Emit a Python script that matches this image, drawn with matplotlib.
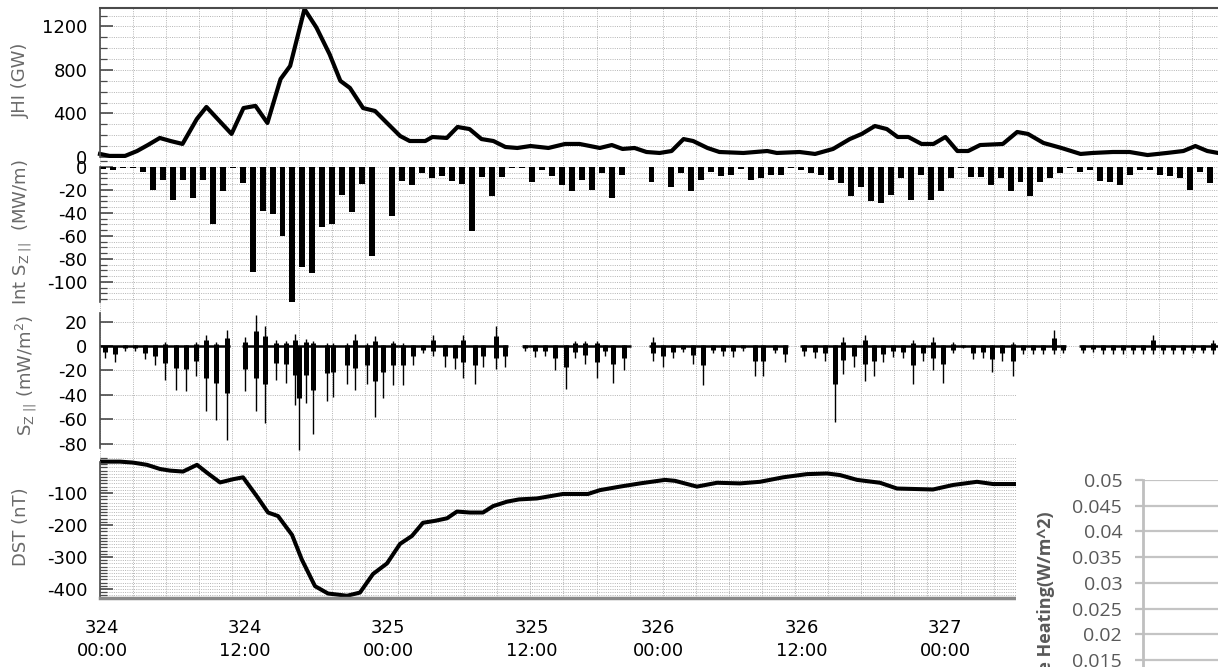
import numpy as np
import matplotlib
matplotlib.use("Agg")
import matplotlib.pyplot as plt
from matplotlib.patches import Rectangle
from matplotlib.ticker import MultipleLocator, NullLocator, FixedLocator, FuncFormatter

plt.rcParams['axes.unicode_minus'] = False
plt.rcParams['font.family'] = ['DejaVu Sans']

# ---------------------------------------------------------------- data
# time axis: hours since day 324 00:00 UT

# Joule heating index (GW)
jhi_t = [0.0, 0.8, 2.1, 3.1, 4.0, 5.0, 5.9, 6.9, 8.1, 8.9, 10.0, 11.0, 12.0, 13.0,
         14.0, 15.1, 15.9, 17.1, 18.1, 19.2, 20.1, 20.9, 22.0, 23.0, 24.0, 25.1,
         25.9, 27.2, 27.8, 29.0, 29.9, 30.9, 31.9, 32.9, 33.9, 34.9, 36.0, 37.5,
         38.9, 40.1, 41.8, 42.8, 43.7, 44.7, 45.7, 46.8, 47.8, 48.8, 49.6, 50.8,
         51.8, 53.8, 55.8, 56.6, 58.5, 59.8, 61.3, 62.7, 63.7, 64.8, 65.8, 66.7,
         67.6, 68.7, 69.7, 70.7, 71.7, 72.6, 73.6, 75.5, 76.7, 77.6, 78.9, 80.4,
         82.0, 83.0, 84.7, 86.1, 87.6, 89.2, 90.6, 91.6, 92.6, 93.5]
jhi_gw = [28, 10, 10, 55, 110, 175, 147, 120, 350, 460, 330, 212, 450, 470,
          313, 717, 837, 1360, 1190, 945, 700, 635, 450, 423, 313, 193,
          147, 147, 184, 175, 276, 257, 165, 147, 92, 83, 101, 83,
          120, 120, 83, 110, 74, 83, 46, 37, 55, 165, 147, 83,
          46, 37, 55, 37, 46, 28, 74, 165, 212, 285, 257, 184,
          184, 120, 120, 184, 55, 55, 110, 120, 230, 212, 129, 83,
          28, 37, 46, 46, 18, 37, 55, 101, 55, 37]

# pass-integrated Poynting flux (MW/m), one value per polar pass
pass_t0 = 0.25
pass_dt = 0.834
int_sz = [-2, -3, -1, -1, -4, -20, -11, -29, -11, -27,
          -11, -49.5, -21, -0.5, -14, -91, -38, -41, -60, -117,
          -87, -92, -52, -50, -24, -39, -15, -77, np.nan, -43,
          -12, -16, -5, -10, -8, -12, -15, -56, -9, -25,
          -9, -1, -1, -13, -3, -8, -16, -21, -11, -20,
          -5, -27, -7, np.nan, np.nan, -13, np.nan, -17, -5, -21,
          -11, -4, -8, -7, -2, -11, -10, -7, -7, -1,
          -3, -5, -7, -11, -14, -25, -17, -30, -31, -24,
          -10, -29, -7, -29, -21, -10, -0.5, -9, -9, -16,
          -10, -21, -13, -25, -13, -10, -5, -0.5, -4, -3,
          -12, -13, -16, -7, -3, -3, -7, -8, -10, -20,
          -4, -14]

# Poynting flux along the track (mW/m^2): extremes for each pass
sz_t = [0.42, 1.25, 2.09, 2.93, 3.76, 4.60, 5.44, 6.36, 7.19, 8.03, 8.86, 9.70, 10.62,
        12.13, 13.05, 13.80, 14.72, 15.55, 16.31, 16.64, 17.23, 17.81, 18.98, 19.48,
        20.66, 21.32, 22.33, 23.00, 23.67, 24.50, 25.34, 26.17, 27.01, 27.85, 28.85,
        29.69, 30.36, 31.36, 32.03, 33.12, 33.87,
        35.54, 36.38, 37.21, 38.05, 38.97, 39.72, 40.56, 41.56, 42.23, 42.90, 43.82,
        46.24, 47.08, 47.92, 48.75, 49.59, 50.43, 51.26, 52.10, 52.94, 53.77, 54.78,
        55.44, 56.45, 57.28,
        58.87, 59.79, 60.63, 61.46, 62.13, 63.05, 63.97, 64.73, 65.48, 66.31, 67.15,
        67.99, 68.82, 69.66, 70.50, 71.33, 72.17, 73.01, 73.84, 74.59, 75.43, 76.35,
        77.19, 78.02, 78.86, 79.78, 80.53,
        82.20, 83.04, 83.88, 84.71, 85.55, 86.39, 87.22, 88.06, 88.89, 89.73, 90.57,
        91.40, 92.24, 93.08]
sz_min = [-10, -13, -4, -4, -11, -16, -28, -36, -37, -25, -53, -61, -77,
          -37, -53, -63, -28, -30, -48, -85, -47, -72, -45, -42, -31, -36, -31, -58,
          -43, -32, -32, -16, -6, -8, -17, -19, -26, -31, -17, -19, -17,
          -4, -9, -8, -20, -35, -10, -15, -26, -8, -30, -20,
          -12, -17, -10, -5, -15, -32, -6, -8, -9, -4, -25, -25, -6, -13,
          -8, -10, -12, -62, -23, -17, -29, -25, -13, -9, -10, -31, -12, -20, -30,
          -6, -2, -11, -10, -21, -12, -25, -7, -7, -7, -7, -6,
          -6, -5, -7, -7, -7, -7, -7, -7, -7, -7, -7, -6, -6, -7]
sz_max = [0, 0, 1, 1, 1, 1, 3, 1, 1, 3, 9, 3, 13,
          7, 25, 16, 5, 4, 10, 0, 6, 4, 2, 2, 2, 10, 2, 8, 1, 4, 2, 1, 1, 9, 1, 1,
          9, 1, 1, 16, 1,
          1, 1, 1, 1, 1, 4, 4, 4, 1, 1, 1,
          7, 1, 1, 1, 1, 1, 1, 1, 1, 1, 1, 1, 1, 1,
          1, 1, 1, 1, 7, 1, 9, 1, 1, 1, 1, 5, 1, 7, 1, 3, 1, 1, 1, 1, 1, 3, 1, 1, 1,
          13, 1,
          1, 1, 1, 1, 1, 1, 1, 9, 1, 1, 1, 1, 1, 5]
# intervals with flux coverage (start, end)
sz_cover_start = [0.0, 11.9, 35.3, 45.9, 58.5, 81.9]
sz_cover_end = [10.9, 34.1, 44.4, 57.5, 80.8, 93.5]

# Dst index (nT)
dst_t = [0.17, 1.67, 2.76, 3.93, 5.02, 5.85, 6.94, 8.11, 9.03, 10.04,
         11.12, 11.96, 13.13, 14.05, 14.89, 16.06, 16.89, 17.98, 19.07, 20.66,
         21.74, 22.83, 24.00, 25.09, 26.09, 27.01, 28.01, 29.02, 29.85, 30.94,
         32.03, 32.87, 34.04, 35.04, 36.54, 38.72, 40.81, 41.81, 43.49, 45.16,
         47.25, 48.09, 49.92, 51.60, 53.52, 55.19, 57.12, 59.12, 60.80, 61.89,
         63.31, 65.23, 66.65, 69.66, 71.33, 73.34, 74.68, 76.60]
dst_nt = [-2, -2, -5, -12, -25, -30, -33, -12, -39, -67,
          -57, -51, -111, -161, -172, -231, -309, -391, -414, -421,
          -411, -353, -320, -259, -234, -193, -187, -179, -158, -161,
          -161, -141, -127, -120, -117, -103, -103, -91, -80, -70,
          -59, -62, -80, -68, -70, -65, -51, -41, -39, -44,
          -59, -68, -86, -89, -75, -65, -72, -72]

# time labels along the bottom
time_labels = ['324\n00:00', '324\n12:00', '325\n00:00', '325\n12:00',
               '326\n00:00', '326\n12:00', '327\n00:00']
time_label_at = [0.17, 12.13, 24.08, 36.13, 46.66, 58.71, 70.67]

# heating axis ticks (W/m^2)
heat_ticks = [0.015, 0.02, 0.025, 0.03, 0.035, 0.04, 0.045, 0.05]

# ---------------------------------------------------------------- layout
W, H = 1218, 667
fig = plt.figure(figsize=(W / 100, H / 100), dpi=100)
fig.patch.set_facecolor('white')

PX_PER_HOUR = 11.958
X0 = 100
XMAX = (W - X0) / PX_PER_HOUR
GRID_STEP = 33.1 / PX_PER_HOUR

GRID_C = '#b4b4b4'
SPINE_C = '#4a4a4a'
LABEL_C = '#6a6a6a'
TICK_FS = 13


def px_axes(top, bottom, left=X0, right=W):
    return fig.add_axes([left / W, 1 - bottom / H, (right - left) / W, (bottom - top) / H])


def style(ax, ymin, ymax, major, minor=None, spine=None):
    ax.set_xlim(0, XMAX)
    ax.set_ylim(ymin, ymax)
    for s in ('top', 'right', 'bottom'):
        ax.spines[s].set_visible(False)
    ax.spines['left'].set_color(SPINE_C)
    ax.spines['left'].set_linewidth(1.2)
    if spine:
        ax.spines['left'].set_bounds(*spine)
    ax.xaxis.set_major_locator(NullLocator())
    ax.xaxis.set_minor_locator(MultipleLocator(GRID_STEP))
    ax.yaxis.set_major_locator(FixedLocator(major))
    if minor:
        ax.yaxis.set_minor_locator(MultipleLocator(minor))
    else:
        ax.yaxis.set_minor_locator(NullLocator())
    ax.tick_params(axis='x', which='both', length=0, labelbottom=False)
    ax.tick_params(axis='y', which='major', direction='in', length=9, width=1.2,
                   color=SPINE_C, labelsize=TICK_FS, pad=9)
    ax.tick_params(axis='y', which='minor', direction='in', length=5, width=0.9,
                   color=SPINE_C)
    ax.grid(True, which='minor', axis='x', color=GRID_C, lw=0.7, ls=(0, (1, 1.3)))
    ax.grid(True, which='both', axis='y', color=GRID_C, lw=0.7, ls=(0, (1, 1.3)))
    ax.set_axisbelow(True)
    ax.patch.set_alpha(0)


# Joule heating index
ax1 = px_axes(8, 157)
style(ax1, 0, 1370, [0, 400, 800, 1200], 100)
ax1.spines['top'].set_visible(True)
ax1.spines['top'].set_color(SPINE_C)
ax1.spines['top'].set_linewidth(1.5)
ax1.plot(jhi_t, jhi_gw, color='black', lw=3.0, solid_joinstyle='round', clip_on=False)

# integrated Poynting flux per pass
ax2 = px_axes(158, 302)
style(ax2, -117.4, 7.8, [0, -20, -40, -60, -80, -100], 5, spine=(-117.4, 0))
int_t = pass_t0 + pass_dt * np.arange(len(int_sz))
ax2.bar(int_t, int_sz, width=0.5, color='black', align='center')

# Poynting flux along track
ax3 = px_axes(302, 456)
style(ax3, -90.2, 36.0, [20, 0, -20, -40, -60, -80], spine=(-83.6, 27.0))
ax3.hlines(np.zeros(len(sz_cover_start)), sz_cover_start, sz_cover_end,
           color='black', lw=1.8)
sz_min_a = np.array(sz_min, float)
sz_max_a = np.array(sz_max, float)
ax3.vlines(sz_t, sz_min_a, sz_max_a, color='black', lw=1.0)
ax3.vlines(sz_t, 0.5 * sz_min_a, 0.5 * sz_max_a, color='black', lw=3.6)

# Dst
ax4 = px_axes(456, 598)
style(ax4, -428, 15.6, [-100, -200, -300, -400], 10, spine=(-428, -3))
ax4.spines['bottom'].set_visible(True)
ax4.spines['bottom'].set_color('#8a8a8a')
ax4.spines['bottom'].set_linewidth(2.5)
ax4.plot(dst_t, dst_nt, color='black', lw=2.9, solid_joinstyle='round')
ax4.xaxis.set_major_locator(FixedLocator(time_label_at))
ax4.set_xticklabels(time_labels)
ax4.tick_params(axis='x', which='major', length=0, labelbottom=True,
                labelsize=TICK_FS, pad=15)
for lab in ax4.get_xticklabels():
    lab.set_linespacing(1.4)

# axis titles
def ylabel(x, y, s):
    fig.text(x / W, 1 - y / H, s, rotation=90, ha='center', va='center',
             fontsize=13, color=LABEL_C)

ylabel(21, 80, 'JHI (GW)')
ylabel(22, 232, r'Int S$_{\mathregular{Z\ ||}}$  (MW/m)')
ylabel(26, 375, r'S$_{\mathregular{Z\ ||}}$ (mW/m$^{\mathregular{2}}$)')
ylabel(21, 527, 'DST (nT)')

# heating panel in the lower right corner
cover = Rectangle((1016 / W, 0), 1 - 1016 / W, 1 - 358 / H, transform=fig.transFigure,
                  facecolor='white', edgecolor='none', zorder=3)
fig.add_artist(cover)

ax5 = fig.add_axes([1143 / W, 1 - 737 / H, (1400 - 1143) / W, 257 / H])
ax5.set_zorder(4)
ax5.set_ylim(0, 0.05)
ax5.set_xlim(0, 1)
ax5.yaxis.set_major_locator(FixedLocator(heat_ticks))
ax5.yaxis.set_major_formatter(FuncFormatter(lambda v, p: f"{v:g}"))
ax5.xaxis.set_major_locator(NullLocator())
for s in ('top', 'right', 'bottom'):
    ax5.spines[s].set_visible(False)
ax5.spines['left'].set_color('#bfbfbf')
ax5.spines['left'].set_linewidth(2)
ax5.grid(True, axis='y', color='#c4c4c4', lw=1.6)
ax5.tick_params(axis='y', direction='out', length=6, width=1.6, color='#bfbfbf',
                labelcolor='#595959', labelsize=14, pad=9)
for lab in ax5.get_yticklabels():
    lab.set_family('Open Sans')
fig.text(1047 / W, 1 - 512 / H, 'Joule Heating(W/m^2)', rotation=90, ha='center',
         va='top', fontsize=13, fontweight='bold', color='#595959', family='Open Sans',
         zorder=5)

fig.savefig('out.png', dpi=100, facecolor='white')
